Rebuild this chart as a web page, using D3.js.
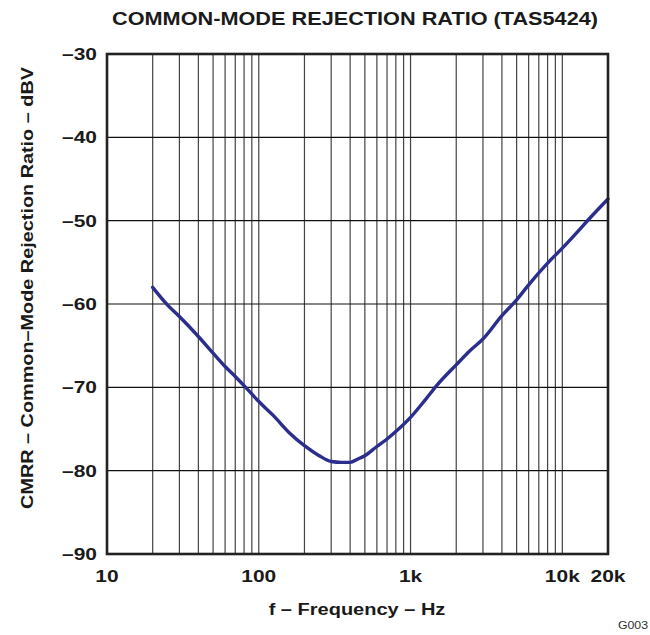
<!DOCTYPE html>
<html>
<head>
<meta charset="utf-8">
<script src="https://cdn.jsdelivr.net/npm/d3@7"></script>
<style>
  body { margin: 0; background: #fff; }
  svg { display: block; font-family: "Liberation Sans", Arial, sans-serif; }
</style>
</head>
<body>
<div class="chart"></div>
<script>
// CMRR measurement, frequency in Hz and level in dBV
var freqs = [20, 25, 30, 40, 50, 60, 70, 80, 100, 125, 160, 200, 250, 300, 350, 400, 450, 500,
             600, 700, 800, 1000, 1250, 1500, 2000, 2500, 3000, 4000, 5000, 6000, 8000, 10000,
             12500, 15000, 20000];
var cmrr = [-58.0, -60.1, -61.5, -63.9, -65.9, -67.5, -68.7, -69.8, -71.7, -73.4, -75.5, -77.0,
            -78.2, -78.9, -79.0, -79.0, -78.6, -78.2, -77.1, -76.2, -75.3, -73.6, -71.5, -69.7,
            -67.3, -65.5, -64.2, -61.4, -59.5, -57.7, -55.1, -53.3, -51.4, -49.8, -47.4];

var xTicks = [10, 100, 1000, 10000, 20000];
var xTickLabels = ["10", "100", "1k", "10k", "20k"];
var yTicks = [-30, -40, -50, -60, -70, -80, -90];

var width = 650, height = 635;
var margin = { top: 54, right: 42, bottom: 80, left: 107 };
var plotW = width - margin.left - margin.right;
var plotH = height - margin.top - margin.bottom - 1;

var svg = d3.select(".chart")
  .append("svg")
    .attr("width", width)
    .attr("height", height);

var x = d3.scaleLog().domain([10, 20000]).range([0, plotW]);
var y = d3.scaleLinear().domain([-90, -30]).range([plotH, 0]);

// the datasheet font is set wide, so labels get a horizontal stretch
function wideText(parent, tx, ty, rot, sx, size, anchor, str) {
  var t = parent.append("g")
      .attr("transform", "translate(" + tx + "," + ty + ") rotate(" + rot + ") scale(" + sx + ",1)")
    .append("text")
      .attr("text-anchor", anchor)
      .attr("font-size", size)
      .attr("font-weight", "bold")
      .attr("fill", "#1a1a1a")
      .text(str);
  return t;
}

var g = svg.append("g")
    .attr("transform", "translate(" + margin.left + "," + margin.top + ")");

// vertical grid: every 1..9 step of each decade
var gridFreqs = [];
for (var dec = 10; dec <= 10000; dec *= 10) {
  for (var k = 1; k <= 9; k++) {
    var f = dec * k;
    if (f > 10 && f < 20000) gridFreqs.push(f);
  }
}

g.selectAll(".vgrid")
  .data(gridFreqs)
  .enter().append("line")
    .attr("class", "vgrid")
    .attr("x1", function(d) { return x(d); })
    .attr("x2", function(d) { return x(d); })
    .attr("y1", 0)
    .attr("y2", plotH)
    .attr("stroke", "#444")
    .attr("stroke-width", 1.2);

g.selectAll(".hgrid")
  .data(yTicks.slice(1, -1))
  .enter().append("line")
    .attr("class", "hgrid")
    .attr("x1", 0)
    .attr("x2", plotW)
    .attr("y1", function(d) { return y(d); })
    .attr("y2", function(d) { return y(d); })
    .attr("stroke", "#111")
    .attr("stroke-width", 1.2);

// the curve
var line = d3.line()
    .x(function(d, i) { return x(freqs[i]); })
    .y(function(d) { return y(d); })
    .curve(d3.curveMonotoneX);

g.append("path")
    .datum(cmrr)
    .attr("d", line)
    .attr("fill", "none")
    .attr("stroke", "#2B2E8C")
    .attr("stroke-width", 3.4)
    .attr("stroke-linejoin", "round")
    .attr("stroke-linecap", "round");

// frame
g.append("rect")
    .attr("x", 0)
    .attr("y", 0)
    .attr("width", plotW)
    .attr("height", plotH)
    .attr("fill", "none")
    .attr("stroke", "#222")
    .attr("stroke-width", 2.6);

// tick labels
yTicks.forEach(function(d) {
  wideText(g, -10, y(d) + 6, 0, 1.27, 16.5, "end", "\u2013" + Math.abs(d));
});

xTicks.forEach(function(d, i) {
  wideText(g, x(d), plotH + 28, 0, 1.27, 16.5, "middle", xTickLabels[i]);
});

// titles
wideText(svg, 355, 25, 0, 1.24, 17.5, "middle", "COMMON-MODE REJECTION RATIO (TAS5424)");
wideText(svg, 357, 615, 0, 1.25, 16, "middle", "f \u2013 Frequency \u2013 Hz");
wideText(svg, 33, 288, -90, 1.24, 16, "middle", "CMRR \u2013 Common\u2013Mode Rejection Ratio \u2013 dBV");

svg.append("g")
    .attr("transform", "translate(648,629) scale(1.12,1)")
  .append("text")
    .attr("text-anchor", "end")
    .attr("font-size", 11)
    .attr("fill", "#333")
    .text("G003");
</script>
</body>
</html>
